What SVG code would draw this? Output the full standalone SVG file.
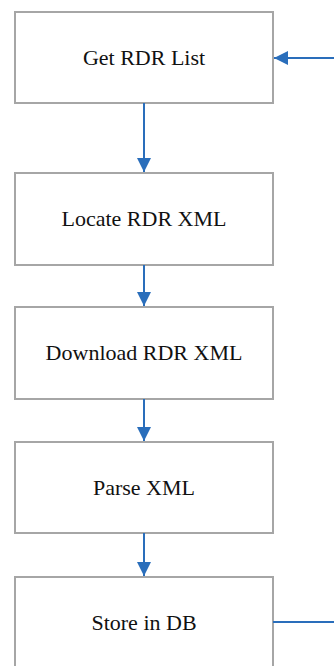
<svg xmlns="http://www.w3.org/2000/svg" width="334" height="666" viewBox="0 0 334 666">
<defs>
<style>
.box{fill:#fff;stroke:#a6a6a6;stroke-width:2}
.lbl{font-family:"Liberation Serif","Times New Roman",serif;font-size:22px;fill:#111;text-anchor:middle}
.con{fill:none;stroke:#2a6ebb;stroke-width:2}
</style>
<marker id="ah" markerWidth="15" markerHeight="14" refX="14" refY="7" orient="auto" markerUnits="userSpaceOnUse">
<path d="M0,0 L14,7 L0,14 Z" fill="#2a6ebb"/>
</marker>
</defs>
<rect width="334" height="666" fill="#fff"/>
<g id="n1"><rect class="box" x="15" y="12" width="258" height="91"/><text class="lbl" x="144" y="65">Get RDR List</text></g>
<g id="n2"><rect class="box" x="15" y="173" width="258" height="92"/><text class="lbl" x="144" y="226">Locate RDR XML</text></g>
<g id="n3"><rect class="box" x="15" y="307" width="258" height="92"/><text class="lbl" x="144" y="360">Download RDR XML</text></g>
<g id="n4"><rect class="box" x="15" y="442" width="258" height="91"/><text class="lbl" x="144" y="495">Parse XML</text></g>
<g id="n5"><rect class="box" x="15" y="577" width="258" height="92"/><text class="lbl" x="144" y="630">Store in DB</text></g>
<g id="connectors">
<path class="con" d="M144,103 V172" marker-end="url(#ah)"/>
<path class="con" d="M144,265 V306" marker-end="url(#ah)"/>
<path class="con" d="M144,399 V441" marker-end="url(#ah)"/>
<path class="con" d="M144,533 V576" marker-end="url(#ah)"/>
<path class="con" d="M273,622 H334"/>
<path class="con" d="M334,58 H274" marker-end="url(#ah)"/>
</g>
</svg>
